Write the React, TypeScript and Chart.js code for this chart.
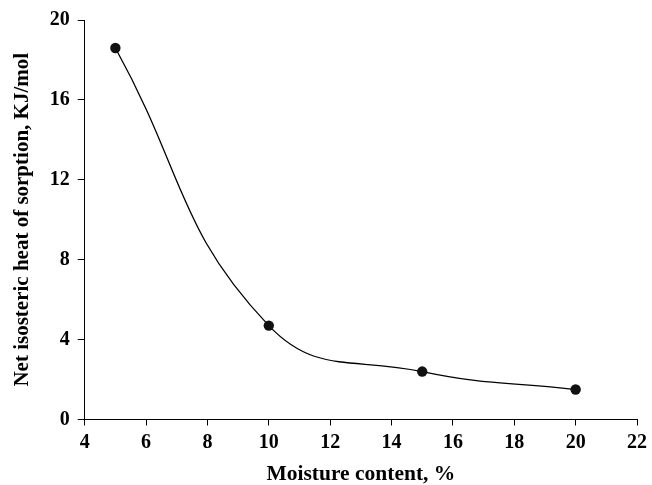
import React, { useEffect, useRef } from "react";
import { Chart, registerables } from "chart.js";

Chart.register(...registerables);

const moisture = [5, 10, 15, 20];
const heat = [18.6, 4.7, 2.4, 1.5];
const xTitle = "Moisture content, %";
const yTitle = "Net isosteric heat of sorption, KJ/mol";

export default function App() {
  const ref = useRef<HTMLCanvasElement>(null);
  useEffect(() => {
    document.body.style.margin = "0";
    const font = "'Liberation Serif', 'Times New Roman', serif";
    const chart = new Chart(ref.current!, {
      type: "line",
      data: {
        datasets: [
          {
            data: moisture.map((x, i) => ({ x, y: heat[i] })),
            borderColor: "#000",
            borderWidth: 1.3,
            backgroundColor: "#000",
            pointRadius: 5.2,
            pointBackgroundColor: "#111",
            pointBorderWidth: 0,
            tension: 0.45,
            fill: false,
          },
        ],
      },
      options: {
        animation: false,
        responsive: false,
        layout: { padding: { left: 9.5, right: 0, top: 14, bottom: 0 } },
        plugins: { legend: { display: false }, tooltip: { enabled: false } },
        scales: {
          x: {
            type: "linear",
            min: 4,
            max: 22,
            ticks: { stepSize: 2, color: "#000", font: { family: font, size: 20, weight: "bold" }, padding: 5 },
            grid: { drawOnChartArea: false, tickLength: 6, color: "#000" },
            border: { color: "#000", width: 1 },
            title: {
              display: true,
              text: xTitle,
              color: "#000",
              font: { family: font, size: 21.5, weight: "bold", lineHeight: 1.0 },
              padding: { top: 4, bottom: 0 },
            },
          },
          y: {
            min: 0,
            max: 20,
            ticks: { stepSize: 4, color: "#000", font: { family: font, size: 20, weight: "bold" }, padding: 8 },
            grid: { drawOnChartArea: false, tickLength: 7, color: "#000" },
            border: { color: "#000", width: 1 },
            title: {
              display: true,
              text: yTitle,
              color: "#000",
              font: { family: font, size: 21, weight: "bold" },
              padding: { top: 0, bottom: 7 },
            },
          },
        },
      },
    });
    return () => chart.destroy();
  }, []);
  return (
    <div style={{ position: "absolute", left: 0, top: 0, width: 652, height: 485, background: "#fff" }}>
      <canvas ref={ref} width={652} height={485} />
    </div>
  );
}
